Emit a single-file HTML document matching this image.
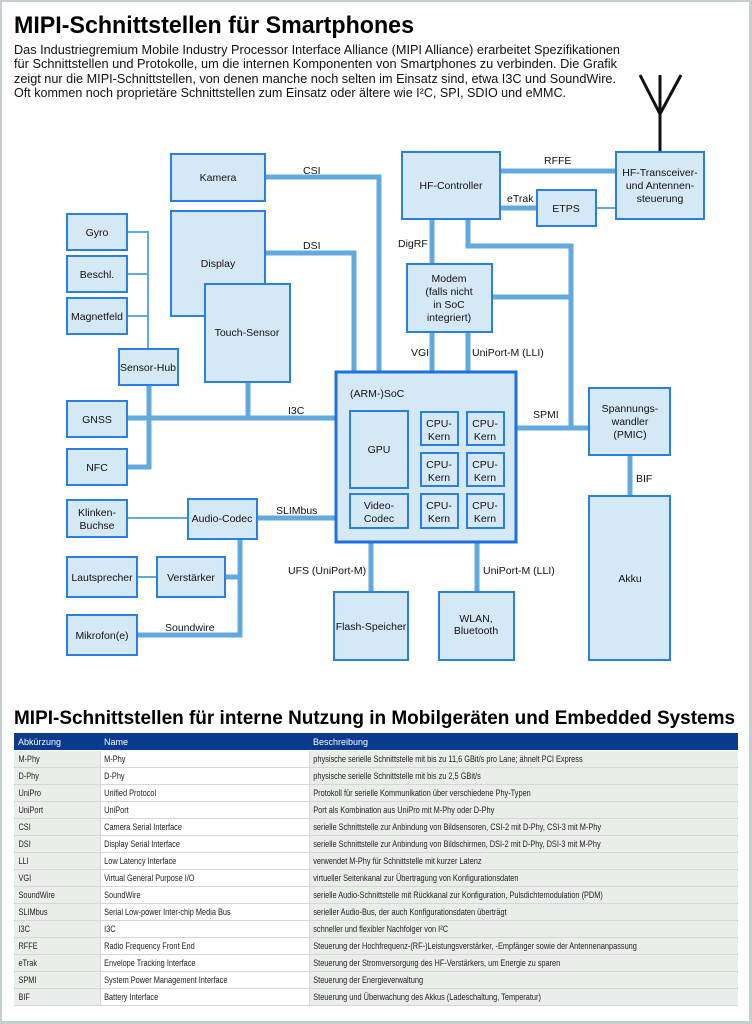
<!DOCTYPE html>
<html><head><meta charset="utf-8"><style>
html,body{margin:0;padding:0;background:#c6cfcf}
svg{display:block}
text{font-family:"Liberation Sans",sans-serif}
.b{fill:#d5e8f5;stroke:#2a7fe3;stroke-width:2}
.t{stroke:#62aadd;stroke-width:5;fill:none}
.n{stroke:#62aadd;stroke-width:2;fill:none}
.l{font-size:10.5px;fill:#111;text-anchor:middle}
.c{font-size:10.5px;fill:#111}
.tb{font-size:10.5px;fill:#222}
</style></head><body>
<svg width="752" height="1024" viewBox="0 0 752 1024">
<rect x="2" y="2" width="747" height="1019" fill="#fff"/>
<text x="14" y="33" font-size="24" font-weight="bold" textLength="400" lengthAdjust="spacingAndGlyphs">MIPI-Schnittstellen für Smartphones</text>
<g font-size="13" fill="#111">
<text x="14" y="54" textLength="606" lengthAdjust="spacingAndGlyphs">Das Industriegremium Mobile Industry Processor Interface Alliance (MIPI Alliance) erarbeitet Spezifikationen</text>
<text x="14" y="68" textLength="603" lengthAdjust="spacingAndGlyphs">für Schnittstellen und Protokolle, um die internen Komponenten von Smartphones zu verbinden. Die Grafik</text>
<text x="14" y="83" textLength="602" lengthAdjust="spacingAndGlyphs">zeigt nur die MIPI-Schnittstellen, von denen manche noch selten im Einsatz sind, etwa I3C und SoundWire.</text>
<text x="14" y="97" textLength="552" lengthAdjust="spacingAndGlyphs">Oft kommen noch proprietäre Schnittstellen zum Einsatz oder ältere wie I²C, SPI, SDIO und eMMC.</text>
</g>
<!-- antenna -->
<g stroke="#111" stroke-width="3" fill="none"><path d="M640 75 L660 114 L681 75 M660 75 V152"/></g>
<!-- connectors -->
<path class="t" d="M265 177 H379 V371"/>
<path class="t" d="M265 253 H354 V371"/>
<path class="t" d="M127 418 H335"/>
<path class="t" d="M248 382 V418"/>
<path class="t" d="M149 385 V467 H127"/>
<path class="n" d="M148 349 V232 H127 M148 274 H127 M148 316 H127"/>
<path class="t" d="M257 518 H335"/>
<path class="n" d="M127 518 H188"/>
<path class="t" d="M240 539 V635 H137 M225 577 H240"/>
<path class="n" d="M137 577 H157"/>
<path class="t" d="M371 543 V592"/>
<path class="t" d="M477 543 V592"/>
<path class="t" d="M432 219 V264"/>
<path class="t" d="M432 332 V371"/>
<path class="t" d="M468 332 V371"/>
<path class="t" d="M468 219 V246 H571 V428"/>
<path class="t" d="M492 297 H571"/>
<path class="t" d="M517 428 H589"/>
<path class="t" d="M500 171 H616"/>
<path class="t" d="M500 208 H537"/>
<path class="n" d="M596 208 H616"/>
<path class="t" d="M630 455 V496"/>
<!-- boxes -->
<rect class="b" x="171" y="154" width="94" height="47"/><text class="l" x="218" y="181">Kamera</text>
<rect class="b" x="171" y="211" width="94" height="105"/><text class="l" x="218" y="267">Display</text>
<rect class="b" x="205" y="284" width="85" height="98"/><text class="l" x="247" y="336">Touch-Sensor</text>
<rect class="b" x="67" y="214" width="60" height="36"/><text class="l" x="97" y="236">Gyro</text>
<rect class="b" x="67" y="256" width="60" height="36"/><text class="l" x="97" y="278">Beschl.</text>
<rect class="b" x="67" y="298" width="60" height="36"/><text class="l" x="97" y="320">Magnetfeld</text>
<rect class="b" x="119" y="349" width="59" height="36"/><text class="l" x="148" y="371">Sensor-Hub</text>
<rect class="b" x="67" y="401" width="60" height="36"/><text class="l" x="97" y="423">GNSS</text>
<rect class="b" x="67" y="449" width="60" height="36"/><text class="l" x="97" y="471">NFC</text>
<rect class="b" x="67" y="500" width="60" height="37"/><text class="l" x="97" y="516">Klinken-</text><text class="l" x="97" y="529">Buchse</text>
<rect class="b" x="188" y="499" width="69" height="40"/><text class="l" x="222" y="522">Audio-Codec</text>
<rect class="b" x="67" y="557" width="70" height="40"/><text class="l" x="102" y="581">Lautsprecher</text>
<rect class="b" x="157" y="557" width="68" height="40"/><text class="l" x="191" y="581">Verstärker</text>
<rect class="b" x="67" y="615" width="70" height="40"/><text class="l" x="102" y="639">Mikrofon(e)</text>
<rect x="336" y="372" width="180" height="170" fill="#d5e8f5" stroke="#1f6fe0" stroke-width="3"/>
<text class="c" x="350" y="397">(ARM-)SoC</text>
<rect class="b" x="350" y="411" width="58" height="77"/><text class="l" x="379" y="453">GPU</text>
<rect class="b" x="350" y="494" width="58" height="34"/><text class="l" x="379" y="509">Video-</text><text class="l" x="379" y="522">Codec</text>
<g>
<rect class="b" x="421" y="412" width="37" height="33"/><text class="l" x="439" y="427">CPU-</text><text class="l" x="439" y="440">Kern</text>
<rect class="b" x="467" y="412" width="37" height="33"/><text class="l" x="485" y="427">CPU-</text><text class="l" x="485" y="440">Kern</text>
<rect class="b" x="421" y="453" width="37" height="33"/><text class="l" x="439" y="468">CPU-</text><text class="l" x="439" y="481">Kern</text>
<rect class="b" x="467" y="453" width="37" height="33"/><text class="l" x="485" y="468">CPU-</text><text class="l" x="485" y="481">Kern</text>
<rect class="b" x="421" y="494" width="37" height="34"/><text class="l" x="439" y="509">CPU-</text><text class="l" x="439" y="522">Kern</text>
<rect class="b" x="467" y="494" width="37" height="34"/><text class="l" x="485" y="509">CPU-</text><text class="l" x="485" y="522">Kern</text>
</g>
<rect class="b" x="334" y="592" width="74" height="68"/><text class="l" x="371" y="630">Flash-Speicher</text>
<rect class="b" x="439" y="592" width="75" height="68"/><text class="l" x="476" y="622">WLAN,</text><text class="l" x="476" y="634">Bluetooth</text>
<rect class="b" x="402" y="152" width="98" height="67"/><text class="l" x="451" y="189">HF-Controller</text>
<rect class="b" x="537" y="190" width="59" height="36"/><text class="l" x="566" y="212">ETPS</text>
<rect class="b" x="616" y="152" width="88" height="67"/><text class="l" x="660" y="176">HF-Transceiver-</text><text class="l" x="660" y="189">und Antennen-</text><text class="l" x="660" y="202">steuerung</text>
<rect class="b" x="407" y="264" width="85" height="68"/><text class="l" x="449" y="282">Modem</text><text class="l" x="449" y="295">(falls nicht</text><text class="l" x="449" y="308">in SoC</text><text class="l" x="449" y="321">integriert)</text>
<rect class="b" x="589" y="388" width="81" height="67"/><text class="l" x="630" y="412">Spannungs-</text><text class="l" x="630" y="425">wandler</text><text class="l" x="630" y="438">(PMIC)</text>
<rect class="b" x="589" y="496" width="81" height="164"/><text class="l" x="630" y="582">Akku</text>
<!-- labels -->
<text class="c" x="303" y="174">CSI</text>
<text class="c" x="303" y="249">DSI</text>
<text class="c" x="288" y="414">I3C</text>
<text class="c" x="276" y="514">SLIMbus</text>
<text class="c" x="165" y="631">Soundwire</text>
<text class="c" x="288" y="574">UFS (UniPort-M)</text>
<text class="c" x="483" y="574">UniPort-M (LLI)</text>
<text class="c" x="398" y="247">DigRF</text>
<text class="c" x="411" y="356">VGI</text>
<text class="c" x="472" y="356">UniPort-M (LLI)</text>
<text class="c" x="533" y="418">SPMI</text>
<text class="c" x="544" y="164">RFFE</text>
<text class="c" x="507" y="202">eTrak</text>
<text class="c" x="636" y="482">BIF</text>
<!-- table -->
<text x="14" y="724" font-size="19" font-weight="bold" textLength="721" lengthAdjust="spacingAndGlyphs">MIPI-Schnittstellen für interne Nutzung in Mobilgeräten und Embedded Systems</text>
<rect x="14" y="733" width="724" height="17" fill="#0b3b8f"/>
<g font-size="9" fill="#fff">
<text x="18" y="745">Abkürzung</text><text x="104" y="745">Name</text><text x="313" y="745">Beschreibung</text>
</g>
<g id="rows"></g>
<g fill="#ebedeb">
<rect x="14" y="751" width="86" height="255"/><rect x="309" y="751" width="429" height="255"/>
</g>
<g stroke="#d3d7d5" stroke-width="1">
<path d="M14 767.5H738M14 784.5H738M14 801.5H738M14 818.5H738M14 835.5H738M14 852.5H738M14 869.5H738M14 886.5H738M14 903.5H738M14 920.5H738M14 937.5H738M14 954.5H738M14 971.5H738M14 988.5H738M14 1005.5H738M100.5 751V1006M309.5 751V1006"/>
</g>
<g font-size="9" fill="#222" transform="scale(0.82,1)">
<g transform="translate(22.5,0)">
<text y="762">M-Phy</text><text y="779">D-Phy</text><text y="796">UniPro</text><text y="813">UniPort</text><text y="830">CSI</text><text y="847">DSI</text><text y="864">LLI</text><text y="881">VGI</text><text y="898">SoundWire</text><text y="915">SLIMbus</text><text y="932">I3C</text><text y="949">RFFE</text><text y="966">eTrak</text><text y="983">SPMI</text><text y="1000">BIF</text>
</g>
<g transform="translate(127,0)">
<text y="762">M-Phy</text><text y="779">D-Phy</text><text y="796">Unified Protocol</text><text y="813">UniPort</text><text y="830">Camera Serial Interface</text><text y="847">Display Serial Interface</text><text y="864">Low Latency Interface</text><text y="881">Virtual General Purpose I/O</text><text y="898">SoundWire</text><text y="915">Serial Low-power Inter-chip Media Bus</text><text y="932">I3C</text><text y="949">Radio Frequency Front End</text><text y="966">Envelope Tracking Interface</text><text y="983">System Power Management Interface</text><text y="1000">Battery Interface</text>
</g>
<g transform="translate(382,0)">
<text y="762">physische serielle Schnittstelle mit bis zu 11,6 GBit/s pro Lane; ähnelt PCI Express</text>
<text y="779">physische serielle Schnittstelle mit bis zu 2,5 GBit/s</text>
<text y="796">Protokoll für serielle Kommunikation über verschiedene Phy-Typen</text>
<text y="813">Port als Kombination aus UniPro mit M-Phy oder D-Phy</text>
<text y="830">serielle Schnittstelle zur Anbindung von Bildsensoren, CSI-2 mit D-Phy, CSI-3 mit M-Phy</text>
<text y="847">serielle Schnittstelle zur Anbindung von Bildschirmen, DSI-2 mit D-Phy, DSI-3 mit M-Phy</text>
<text y="864">verwendet M-Phy für Schnittstelle mit kurzer Latenz</text>
<text y="881">virtueller Seitenkanal zur Übertragung von Konfigurationsdaten</text>
<text y="898">serielle Audio-Schnittstelle mit Rückkanal zur Konfiguration, Pulsdichtemodulation (PDM)</text>
<text y="915">serieller Audio-Bus, der auch Konfigurationsdaten überträgt</text>
<text y="932">schneller und flexibler Nachfolger von I²C</text>
<text y="949">Steuerung der Hochfrequenz-(RF-)Leistungsverstärker, -Empfänger sowie der Antennenanpassung</text>
<text y="966">Steuerung der Stromversorgung des HF-Verstärkers, um Energie zu sparen</text>
<text y="983">Steuerung der Energieverwaltung</text>
<text y="1000">Steuerung und Überwachung des Akkus (Ladeschaltung, Temperatur)</text>
</g>
</g>
</svg>
</body></html>
